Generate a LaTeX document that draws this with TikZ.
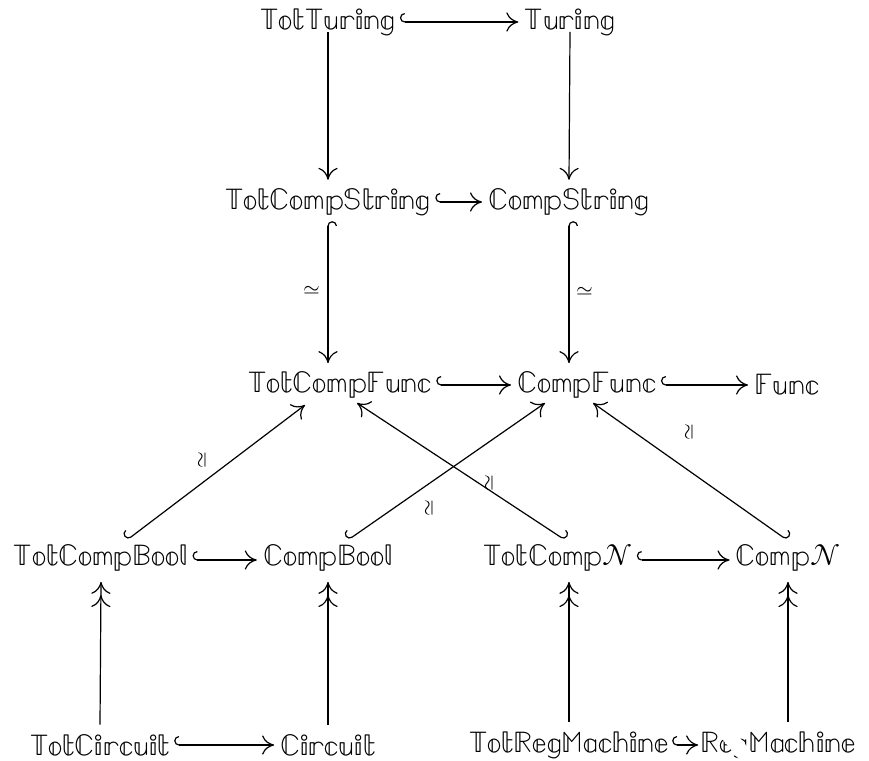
\documentclass[tikz,border=0pt]{standalone}
\usepackage{unicode-math}
\setmathfont{Latin Modern Math}
\usetikzlibrary{arrows.meta,calc}
\newcommand\bbt[1]{\ensuremath{\mathbb{#1}}}
\begin{document}
\begin{tikzpicture}[x=0.4167pt,y=-0.4167pt,
  obj/.style={inner sep=0pt, font=\fontsize{12.4}{14}\selectfont},
  eqlab/.style={inner sep=0pt, font=\fontsize{9}{10}\selectfont},
  tipR/.tip={Computer Modern Rightarrow[length=5pt,width=8pt]},
  hkL/.tip={Hooks[left,arc=180,length=2pt,width=7.5pt]},
  hkR/.tip={Hooks[right,arc=180,length=2pt,width=7.5pt]},
  ar/.style={line width=0.5pt, -tipR},
  sur/.style={line width=0.5pt, -{tipR[sep=0.5pt]tipR}},
  hL/.style={line width=0.5pt, hkR-tipR},
  hR/.style={line width=0.5pt, hkL-tipR},
]
\useasboundingbox (0,0) rectangle (869,760);

% row 1
\node[obj] (tt) at (328,22) {\bbt{TotTuring}};
\node[obj] (tu) at (570,22) {\bbt{Turing}};
% row 2
\node[obj] (tcs) at (328,202) {\bbt{TotCompString}};
\node[obj] (cs) at (569,202) {\bbt{CompString}};
% row 3
\node[obj] (tcf) at (340,385) {\bbt{TotCompFunc}};
\node[obj] (cf) at (587,385) {\bbt{CompFunc}};
\node[obj] (fu) at (787,385) {\bbt{Func}};
% row 4
\node[obj] (tcb) at (101,558) {\bbt{TotCompBool}};
\node[obj] (cb) at (328,558) {\bbt{CompBool}};
\node[obj] (tcn) at (558,558) {$\mathbb{TotComp}\mathcal{N}$};
\node[obj] (cn) at (788,558) {$\mathbb{Comp}\mathcal{N}$};
% row 5
\node[obj] (tci) at (100,745) {\bbt{TotCircuit}};
\node[obj] (ci) at (328,745) {\bbt{Circuit}};
\node[obj] (trm) at (569,745) {\bbt{TotRegMachine}};
\node[obj] (rm) at (778,745) {\bbt{RegMachine}};

% horizontal hooks
\draw[hL] ($(tt.east)+(4,0)$) -- ($(tu.west)+(-6,0)$);
\draw[hL] ($(tcs.east)+(4,0)$) -- ($(cs.west)+(-6,0)$);
\draw[hL] ($(tcf.east)+(4,0)$) -- ($(cf.west)+(-6,0)$);
\draw[hL] ($(cf.east)+(4,0)$) -- ($(fu.west)+(-6,0)$);
\draw[hL] ($(tcb.east)+(4,2)$) -- ($(cb.west)+(-6,2)$);
\draw[hL] ($(tcn.east)+(4,2)$) -- ($(cn.west)+(-6,2)$);
\draw[hL] ($(tci.east)+(4,0)$) -- ($(ci.west)+(-6,0)$);
\draw[hL] ($(trm.east)+(3,0)$) -- ($(rm.west)+(-2,0)$);

% vertical
\draw[ar] ($(tt.south)+(0,-4)$) -- ($(tcs.north)+(0,-8)$);
\draw[ar] ($(tu.south)+(0,-4)$) -- ($(cs.north)+(0,-8)$);
\draw[hL] ($(tcs.south)+(0,5)$) -- ($(tcs.south |- tcf.north)+(0,-8)$);
\draw[hL] ($(cs.south)+(0,5)$) -- ($(cs.south |- cf.north)+(0,-8)$);
\node[eqlab] (e1) at (312,291) {$\simeq$};
\node[eqlab] (e2) at (585,292) {$\simeq$};

\draw[sur] ($(tci.north)+(0,-9)$) -- ($(tcb.south)+(0,10)$);
\draw[sur] ($(ci.north)+(0,-9)$) -- ($(cb.south)+(0,10)$);
\draw[sur] ($(trm.north)+(0,-9)$) -- ($(trm.north |- tcn.south)+(0,10)$);
\draw[sur] ($(cn.south |- rm.north)+(0,-9)$) -- ($(cn.south)+(0,10)$);

% diagonals
\draw[hL] ($(tcb)+(26,-18)$) -- ($(tcf)+(-35,20)$);
\draw[hL] ($(cb)+(20,-18)$) -- ($(cf)+(-42,18)$);
\draw[white, line width=6pt] ($(tcn)+(7,-18)!0.42!(tcf)+(17,18)$) -- ($(tcn)+(7,-18)!0.58!(tcf)+(17,18)$);
\draw[hR] ($(tcn)+(7,-18)$) -- ($(tcf)+(17,18)$);
\draw[hR] ($(cn)+(-1,-18)$) -- ($(cf)+(6,18)$);
\node[eqlab, rotate=90] (e3) at (203,460) {$\simeq$};
\node[eqlab, rotate=90] (e4) at (430,508) {$\simeq$};
\node[eqlab, rotate=90] (e5) at (490,483) {$\simeq$};
\node[eqlab, rotate=90] (e6) at (690,432) {$\simeq$};
\end{tikzpicture}
\end{document}
